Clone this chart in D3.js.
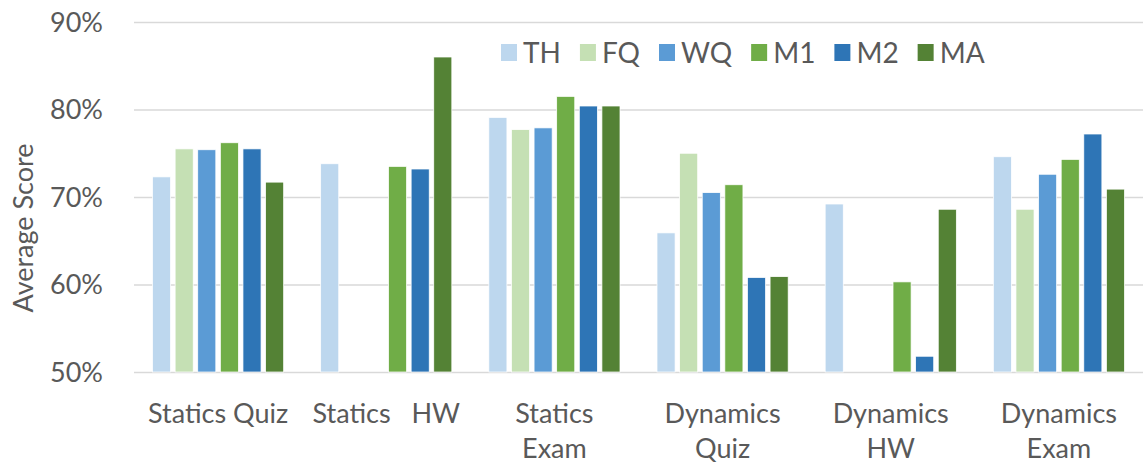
<!DOCTYPE html>
<html>
<head>
<meta charset="utf-8">
<script src="https://cdn.jsdelivr.net/npm/d3@7"></script>
<style>
  body { margin: 0; background: #fff; }
  svg text { font-family: Lato, "Noto Sans", sans-serif; fill: #595959; white-space: pre; }
</style>
</head>
<body>
<svg id="chart" width="1143" height="466"></svg>
<script>
// chart data
const categories = ['Statics Quiz', 'Statics   HW', 'Statics Exam', 'Dynamics Quiz', 'Dynamics HW', 'Dynamics Exam'];
const categoryLines = [['Statics Quiz'], ['Statics   HW'], ['Statics', 'Exam'], ['Dynamics', 'Quiz'], ['Dynamics', 'HW'], ['Dynamics', 'Exam']];
const seriesNames = ['TH', 'FQ', 'WQ', 'M1', 'M2', 'MA'];
const seriesColors = ['#BDD7EE', '#C5E0B4', '#5B9BD5', '#70AD47', '#2E75B6', '#548235'];

// values in percent, null = no bar
const TH = [72.3, 73.8, 79.1, 65.9, 69.2, 74.6];
const FQ = [75.5, null, 77.7, 75.0, null, 68.6];
const WQ = [75.4, null, 77.9, 70.5, null, 72.6];
const M1 = [76.2, 73.5, 81.5, 71.4, 60.3, 74.3];
const M2 = [75.5, 73.2, 80.4, 60.8, 51.8, 77.2];
const MA = [71.7, 86.0, 80.4, 60.9, 68.6, 70.9];
const seriesValues = [TH, FQ, WQ, M1, M2, MA];

const yTicks = [50, 60, 70, 80, 90];

const svg = d3.select('#chart');
const margin = { left: 134, right: 0, top: 22, bottom: 94 };
const width = 1143, height = 466;

const x0 = d3.scaleBand()
    .domain(categories)
    .range([margin.left, width - margin.right]);

const x1 = d3.scaleBand()
    .domain(seriesNames)
    .range([x0.bandwidth() * 0.11, x0.bandwidth() * 0.89])
    .paddingInner(0.2);

const y = d3.scaleLinear()
    .domain([50, 90])
    .range([height - margin.bottom, margin.top]);

// gridlines
svg.append('g')
    .selectAll('line')
    .data(yTicks)
    .join('line')
    .attr('x1', margin.left)
    .attr('x2', width - margin.right)
    .attr('y1', d => y(d) + 0.5)
    .attr('y2', d => y(d) + 0.5)
    .attr('stroke', '#D9D9D9')
    .attr('stroke-width', 1.5);

// y axis labels
svg.append('g')
    .selectAll('text')
    .data(yTicks)
    .join('text')
    .attr('x', 103)
    .attr('y', d => y(d))
    .attr('dy', '0.36em')
    .attr('text-anchor', 'end')
    .style('font-size', '27px')
    .text(d => d + '%');

// y axis title
svg.append('text')
    .attr('transform', 'translate(33, 228) rotate(-90)')
    .attr('text-anchor', 'middle')
    .style('font-size', '27px')
    .text('Average Score');

// bars
const groups = svg.append('g')
    .selectAll('g')
    .data(categories)
    .join('g')
    .attr('transform', d => `translate(${x0(d)},0)`);

groups.selectAll('rect')
    .data((d, ci) => seriesNames.map((s, si) => ({ s, si, v: seriesValues[si][ci] })).filter(d => d.v != null))
    .join('rect')
    .attr('x', d => x1(d.s))
    .attr('width', x1.bandwidth())
    .attr('y', d => y(d.v))
    .attr('height', d => y(50) - y(d.v))
    .attr('fill', d => seriesColors[d.si])
    .attr('stroke', '#fff')
    .attr('stroke-width', 0.75);

// x labels
const xLabels = svg.append('g')
    .selectAll('text')
    .data(categories)
    .join('text')
    .attr('x', d => x0(d) + x0.bandwidth() / 2)
    .attr('y', 423)
    .attr('text-anchor', 'middle')
    .style('font-size', '27px');

xLabels.selectAll('tspan')
    .data((d, i) => categoryLines[i])
    .join('tspan')
    .attr('x', function () { return d3.select(this.parentNode).attr('x'); })
    .attr('dy', (d, i) => i === 0 ? 0 : 35)
    .text(d => d);

// legend
const legend = svg.append('g').attr('transform', 'translate(501, 53)');
let lx = 0;
seriesNames.forEach((name, i) => {
    const item = legend.append('g').attr('transform', `translate(${lx},0)`);
    item.append('rect')
        .attr('x', 0)
        .attr('y', -9)
        .attr('width', 16)
        .attr('height', 17)
        .attr('fill', seriesColors[i]);
    const t = item.append('text')
        .attr('x', 22)
        .attr('y', 0)
        .attr('dy', '0.36em')
        .style('font-size', '28px')
        .text(name);
    lx += 22 + t.node().getComputedTextLength() + 19;
});
</script>
</body>
</html>
